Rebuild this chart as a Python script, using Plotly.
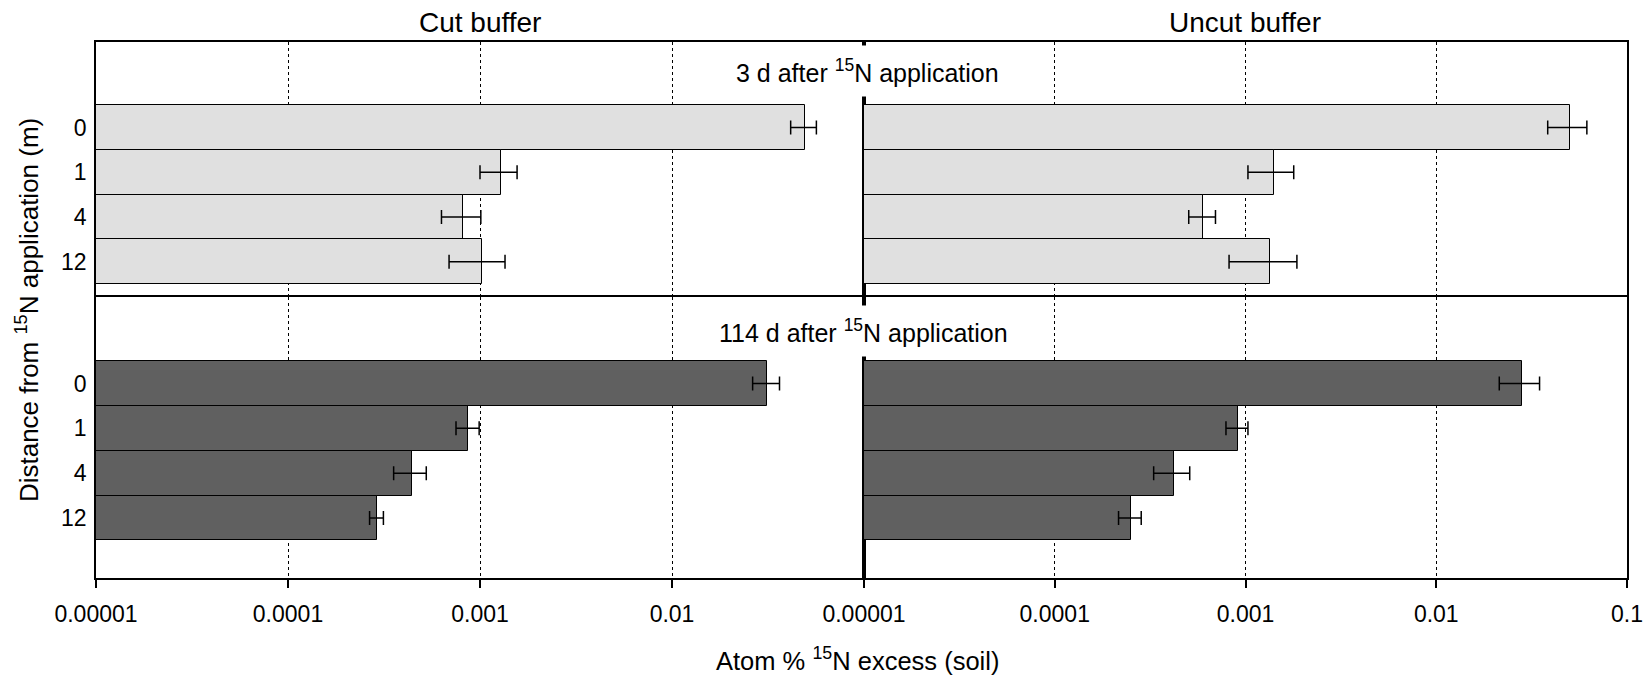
import plotly.graph_objects as go
from plotly.subplots import make_subplots

distances = ["0", "1", "4", "12"]

cut_3d = [0.049, 0.00128, 0.00082, 0.00102]
cut_3d_err = [0.0075, 0.00028, 0.00019, 0.00033]
uncut_3d = [0.050, 0.00141, 0.00060, 0.00134]
uncut_3d_err = [0.0116, 0.00038, 0.000096, 0.00052]

cut_114d = [0.0313, 0.00087, 0.00044, 0.00029]
cut_114d_err = [0.0050, 0.00012, 0.000085, 0.000024]
uncut_114d = [0.0281, 0.00091, 0.00042, 0.00025]
uncut_114d_err = [0.0067, 0.00012, 0.00009, 0.000034]

tick_vals = [1e-5, 1e-4, 1e-3, 1e-2, 1e-1]
tick_text = ["0.00001", "0.0001", "0.001", "0.01", "0.1"]

FONT = "Liberation Sans, Arial, Helvetica, sans-serif"
LIGHT = "#e0e0e0"
DARK = "#606060"

fig = make_subplots(rows=2, cols=2, horizontal_spacing=0, vertical_spacing=0,
                    row_heights=[255, 281], column_widths=[768, 763])

panels = [
    (cut_3d, cut_3d_err, LIGHT, 1, 1),
    (uncut_3d, uncut_3d_err, LIGHT, 1, 2),
    (cut_114d, cut_114d_err, DARK, 2, 1),
    (uncut_114d, uncut_114d_err, DARK, 2, 2),
]
for vals, errs, col, r, c in panels:
    fig.add_trace(go.Bar(
        y=distances, x=vals, orientation="h",
        marker=dict(color=col, line=dict(color="black", width=1)),
        error_x=dict(type="data", array=errs, visible=True, color="black",
                     thickness=1.5, width=7),
        hoverinfo="x+y",
    ), row=r, col=c)

for r in (1, 2):
    for c in (1, 2):
        bottom = (r == 2)
        if bottom and c == 1:
            tv, tt = tick_vals[:4], tick_text[:4]
        else:
            tv, tt = tick_vals, tick_text
        fig.update_xaxes(
            type="log", range=[-5, -1], automargin=False,
            side="bottom" if bottom else "top",
            showline=True, linecolor="black", linewidth=1.5, mirror=bottom,
            showgrid=True, gridcolor="black", griddash="dot", gridwidth=1,
            zeroline=False,
            tickmode="array", tickvals=tv, ticktext=tt,
            ticks="outside" if bottom else "", ticklen=8, tickwidth=1.5,
            tickcolor="black", ticklabelstandoff=7,
            showticklabels=bottom,
            tickfont=dict(size=23, color="black", family=FONT),
            row=r, col=c)
        fig.update_yaxes(
            type="category", categoryorder="array", categoryarray=distances,
            range=[3.79, -1.91] if r == 1 else [4.34, -1.93],
            automargin=False,
            showline=True, linecolor="black", linewidth=1.5, mirror=True,
            showgrid=False, zeroline=False, ticks="",
            showticklabels=(c == 1), ticklabelstandoff=3,
            tickfont=dict(size=23, color="black", family=FONT),
            row=r, col=c)

annotations = [
    dict(text="Cut buffer", x=0.2508, y=1.036, font=dict(size=28)),
    dict(text="Uncut buffer", x=0.7505, y=1.036, font=dict(size=28)),
    dict(text="3 d after <sup>15</sup>N application", x=0.504, y=0.946,
         font=dict(size=25), bgcolor="white", borderpad=9),
    dict(text="114 d after <sup>15</sup>N application", x=0.5016, y=0.4608,
         font=dict(size=25), bgcolor="white", borderpad=9),
    dict(text="Atom % <sup>15</sup>N excess (soil)", x=0.4974, y=-0.151,
         font=dict(size=25.5)),
    dict(text="Distance from <sup>15</sup>N application (m)", x=-0.045, y=0.5,
         textangle=-90, font=dict(size=26)),
]
for a in annotations:
    a.update(xref="paper", yref="paper", showarrow=False,
             xanchor="center", yanchor="middle")
    a["font"].update(family=FONT, color="black")
    fig.add_annotation(**a)

# page body has an 8px margin: size the figure so the plot area lands where the reference has it
fig.update_layout(
    width=1644, height=667,
    margin=dict(l=88, r=25, t=34, b=97, autoexpand=False),
    paper_bgcolor="white", plot_bgcolor="white",
    showlegend=False, bargap=0,
    font=dict(family=FONT, color="black"),
)

fig.write_html("out.html")
